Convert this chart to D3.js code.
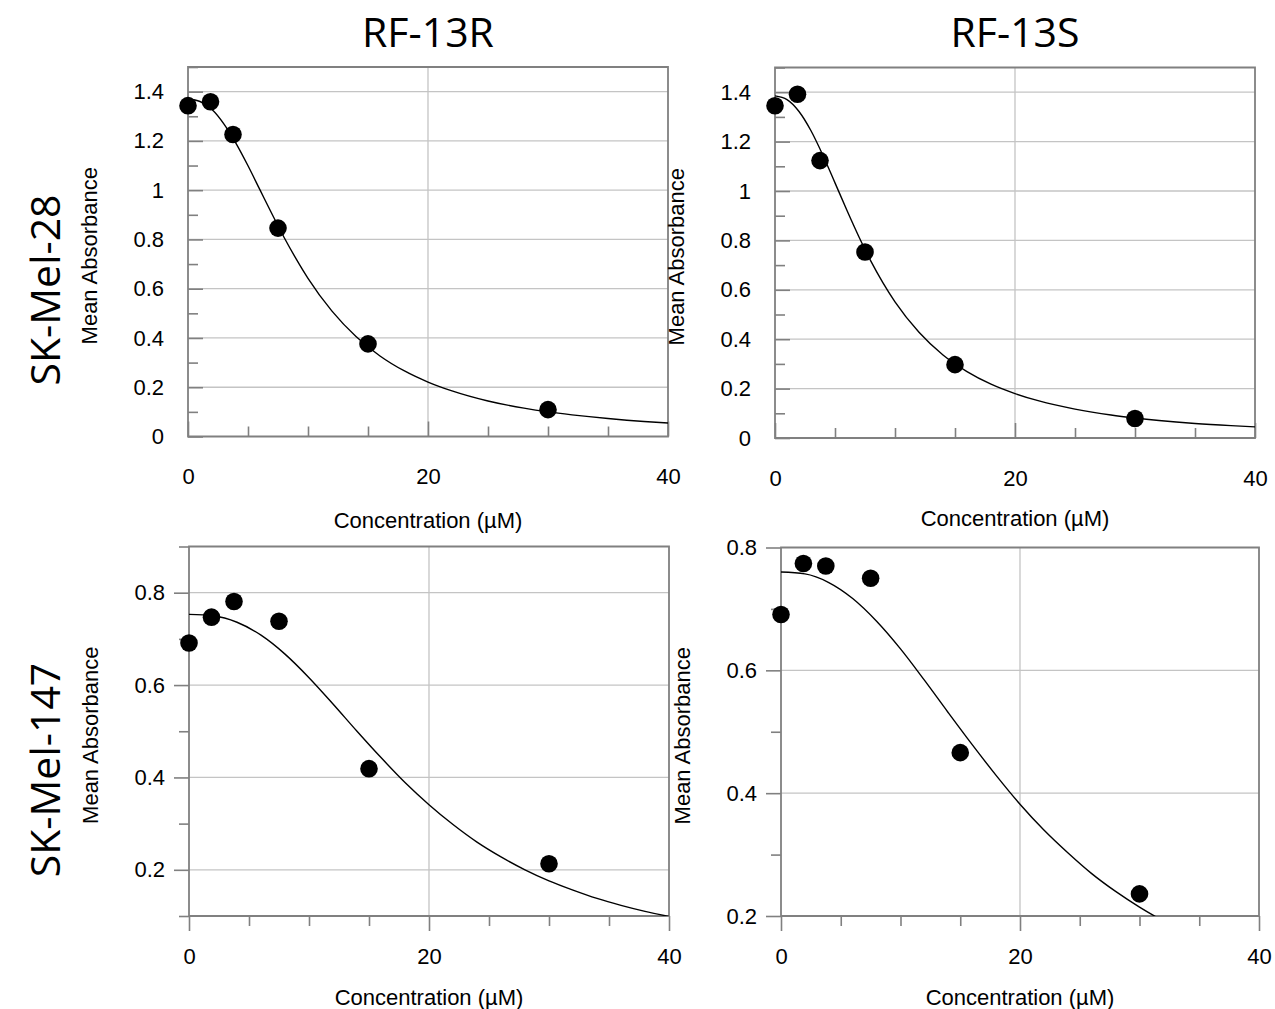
<!DOCTYPE html>
<html>
<head>
<meta charset="utf-8">
<script src="https://cdn.jsdelivr.net/npm/d3@7"></script>
<style>
  html, body { margin: 0; padding: 0; background: #fff; }
  svg { display: block; }
</style>
</head>
<body>
<svg id="chart" width="1275" height="1009"></svg>
<script>
// ---------- data ----------
const columnTitles = ["RF-13R", "RF-13S"];
const rowTitles = ["SK-Mel-28", "SK-Mel-147"];
const concentrations = [0, 1.875, 3.75, 7.5, 15, 30];

const mel28_RF13R = [1.343, 1.359, 1.226, 0.846, 0.376, 0.109];
const mel28_RF13S = [1.345, 1.392, 1.123, 0.753, 0.297, 0.079];
const mel147_RF13R = [0.691, 0.747, 0.781, 0.738, 0.419, 0.213];
const mel147_RF13S = [0.691, 0.774, 0.770, 0.750, 0.466, 0.236];

// fitted curves
const fitX_top = [0,1,2,3,4,5,6,7,8,9,10,12,14,16,18,20,22,25,28,30,32,35,38,40];
const fit_mel28_RF13R = [1.370,1.360,1.327,1.268,1.190,1.099,1.001,0.903,0.809,0.722,0.642,0.509,0.406,0.327,0.267,0.221,0.185,0.144,0.115,0.100,0.088,0.073,0.061,0.055];
const fit_mel28_RF13S = [1.385,1.370,1.322,1.244,1.144,1.033,0.921,0.814,0.715,0.628,0.551,0.428,0.336,0.269,0.218,0.180,0.150,0.117,0.093,0.081,0.071,0.059,0.050,0.045];
const fitX_bottom = [0,2,4,6,8,10,12,14,16,18,20,22,24,26,28,30,32,34,36,38,40];
const fit_mel147_RF13R = [0.753,0.750,0.736,0.708,0.667,0.616,0.559,0.500,0.443,0.389,0.341,0.298,0.260,0.228,0.200,0.176,0.156,0.138,0.123,0.110,0.099];
const fit_mel147_RF13S = [0.760,0.757,0.743,0.717,0.680,0.635,0.584,0.531,0.479,0.429,0.382,0.340,0.303,0.269,0.240,0.2145,0.192,0.173,0.157,0.143,0.131];

const xTickLabels = [0, 20, 40];
const xMinorTicks = [5, 10, 15, 25, 30, 35];
const yTicks_top = [0, 0.2, 0.4, 0.6, 0.8, 1, 1.2, 1.4];
const yMinor_top = [0.1, 0.3, 0.5, 0.7, 0.9, 1.1, 1.3, 1.5];
const yTicks_bl = [0.2, 0.4, 0.6, 0.8];
const yMinor_bl = [0.1, 0.3, 0.5, 0.7, 0.9];
const yTicks_br = [0.2, 0.4, 0.6, 0.8];
const yMinor_br = [0.3, 0.5, 0.7];

const xLabel = "Concentration (\u00b5M)";
const yLabel = "Mean Absorbance";

// ---------- layout ----------
const panels = [
  { box: [188, 668, 67, 436.5], ydom: [0, 1.5], yt: yTicks_top, ym: yMinor_top, grid: [0.2,0.4,0.6,0.8,1,1.2,1.4],
    pts: mel28_RF13R, fx: fitX_top, fy: fit_mel28_RF13R, inward: true, xlabY: 520 },
  { box: [775, 1255, 67.5, 438], ydom: [0, 1.5], yt: yTicks_top, ym: yMinor_top, grid: [0.2,0.4,0.6,0.8,1,1.2,1.4],
    pts: mel28_RF13S, fx: fitX_top, fy: fit_mel28_RF13S, inward: true, xlabY: 518 },
  { box: [189, 669, 546.5, 916], ydom: [0.1, 0.9], yt: yTicks_bl, ym: yMinor_bl, grid: [0.2,0.4,0.6,0.8],
    pts: mel147_RF13R, fx: fitX_bottom, fy: fit_mel147_RF13R, inward: false, xlabY: 997 },
  { box: [781, 1259, 547.5, 916], ydom: [0.2, 0.8], yt: yTicks_br, ym: yMinor_br, grid: [0.4,0.6],
    pts: mel147_RF13S, fx: fitX_bottom, fy: fit_mel147_RF13S, inward: false, xlabY: 997 }
];

const svg = d3.select("#chart");
const axisColor = "#808080";
const gridColor = "#c4c4c4";
const tickFont = "'Liberation Sans', Arial, sans-serif";
const fs = 22;

panels.forEach((p, i) => {
  const [x0, x1, y0, y1] = p.box;
  const x = d3.scaleLinear().domain([0, 40]).range([x0, x1]);
  const y = d3.scaleLinear().domain(p.ydom).range([y1, y0]);
  const g = svg.append("g");
  const sign = p.inward ? -1 : 1;

  // gridlines
  g.selectAll(".hg").data(p.grid).join("line")
    .attr("x1", x0).attr("x2", x1)
    .attr("y1", d => y(d)).attr("y2", d => y(d))
    .attr("stroke", gridColor).attr("stroke-width", 1.3);
  g.append("line")
    .attr("x1", x(20)).attr("x2", x(20)).attr("y1", y0).attr("y2", y1)
    .attr("stroke", gridColor).attr("stroke-width", 1.3);

  // y axis ticks (major with labels, minor without)
  const yAxis = d3.axisLeft(y).tickValues(p.yt).tickSize(sign * 15).tickSizeOuter(0)
    .tickPadding(p.inward ? 24 : 9).tickFormat(d3.format("~g"));
  const ya = g.append("g").attr("transform", `translate(${x0},0)`).call(yAxis);
  const yMinorAxis = d3.axisLeft(y).tickValues(p.ym).tickSize(sign * 10).tickSizeOuter(0).tickFormat("");
  const yb = g.append("g").attr("transform", `translate(${x0},0)`).call(yMinorAxis);

  // x axis
  const xAxis = d3.axisBottom(x).tickValues(xTickLabels).tickSize(sign * 15).tickSizeOuter(0)
    .tickPadding(p.inward ? 32 : 17);
  const xa = g.append("g").attr("transform", `translate(0,${y1})`).call(xAxis);
  const xMinorAxis = d3.axisBottom(x).tickValues(xMinorTicks).tickSize(sign * 10).tickSizeOuter(0).tickFormat("");
  const xb = g.append("g").attr("transform", `translate(0,${y1})`).call(xMinorAxis);

  [ya, yb, xa, xb].forEach(a => {
    a.select(".domain").remove();
    a.selectAll(".tick line").attr("stroke", axisColor).attr("stroke-width", 1.6);
    a.selectAll(".tick text").attr("fill", "#000").attr("font-family", tickFont).attr("font-size", fs);
  });

  // frame
  g.append("path")
    .attr("d", `M${x0},${y0}H${x1}V${y1}H${x0}Z`)
    .attr("fill", "none").attr("stroke", axisColor).attr("stroke-width", 1.8);

  // fitted curve
  const clipId = "clip" + i;
  svg.append("clipPath").attr("id", clipId).append("rect")
    .attr("x", x0).attr("y", y0).attr("width", x1 - x0).attr("height", y1 - y0);
  const line = d3.line().x(d => x(d[0])).y(d => y(d[1])).curve(d3.curveMonotoneX);
  g.append("path")
    .attr("d", line(p.fx.map((v, k) => [v, p.fy[k]])))
    .attr("clip-path", `url(#${clipId})`)
    .attr("fill", "none").attr("stroke", "#000").attr("stroke-width", 1.4);

  // points
  g.selectAll(".pt").data(p.pts).join("circle")
    .attr("cx", (d, k) => x(concentrations[k]))
    .attr("cy", d => y(d))
    .attr("r", 8.8).attr("fill", "#000");

  // axis titles
  g.append("text")
    .attr("x", (x0 + x1) / 2).attr("y", p.xlabY).attr("dy", "0.35em")
    .attr("text-anchor", "middle").attr("font-family", tickFont).attr("font-size", fs)
    .text(xLabel);
  g.append("text")
    .attr("transform", `translate(${x0 - 99},${(y0 + y1) / 2 + 4}) rotate(-90)`)
    .attr("dy", "0.35em")
    .attr("text-anchor", "middle").attr("font-family", tickFont).attr("font-size", fs)
    .text(yLabel);
});

// column titles
const titleFont = "'Open Sans', 'Noto Sans', sans-serif";
[428, 1015].forEach((cx, i) => {
  svg.append("text").attr("x", cx).attr("y", 47)
    .attr("text-anchor", "middle").attr("font-family", titleFont).attr("font-size", 41)
    .text(columnTitles[i]);
});
// row titles
[290, 770].forEach((cy, i) => {
  svg.append("text").attr("transform", `translate(60,${cy}) rotate(-90)`)
    .attr("text-anchor", "middle").attr("font-family", titleFont).attr("font-size", 41)
    .text(rowTitles[i]);
});
</script>
</body>
</html>
